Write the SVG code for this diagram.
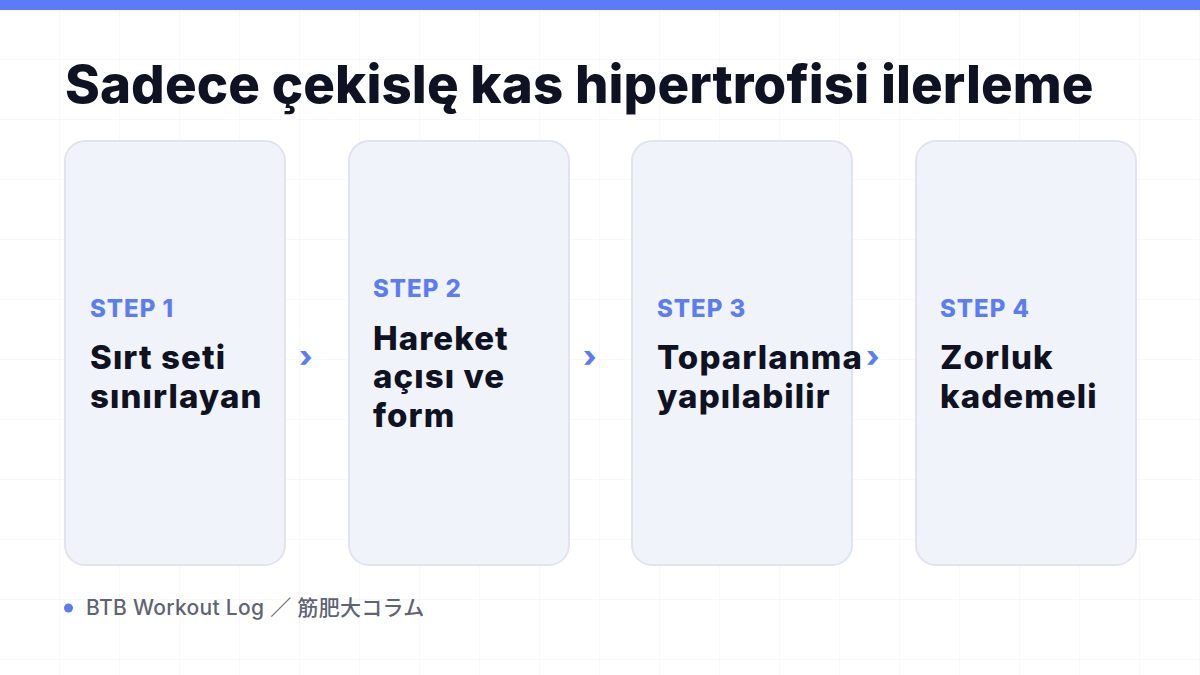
<svg xmlns="http://www.w3.org/2000/svg" width="1200" height="675" viewBox="0 0 1200 675">
  <defs>
    <pattern id="grid" x="0" y="0" width="60" height="60" patternUnits="userSpaceOnUse">
      <path d="M60 0 V60 M0 60 H60" fill="none" stroke="#f1f2f5" stroke-width="1"/>
    </pattern>
    <style>
      .card { fill: #f1f3fb; stroke: #e1e4ee; stroke-width: 2; }
      .step { font-family: Inter, "Liberation Sans", sans-serif; font-weight: 800; font-size: 24px; letter-spacing: 1px; fill: #5b7cf5; }
      .body { font-family: Inter, "Liberation Sans", sans-serif; font-weight: 800; font-size: 33px; letter-spacing: 1.1px; fill: #0f1222; }
      .arrow { font-family: Inter, "Liberation Sans", sans-serif; font-weight: 800; font-size: 30px; fill: #5b7cf5; }
      .title { font-family: Inter, "Liberation Sans", sans-serif; font-weight: 800; font-size: 52.8px; letter-spacing: 0.1px; fill: #0f1222; }
      .foot { font-family: Inter, "Liberation Sans", "Noto Sans CJK JP", sans-serif; font-weight: 500; font-size: 21px; letter-spacing: 0.3px; fill: #5f6473; }
    </style>
  </defs>
  <rect width="1200" height="675" fill="#ffffff"/>
  <rect width="1200" height="675" fill="url(#grid)"/>
  <rect x="0" y="0" width="1200" height="10" fill="#5b7cf6"/>

  <text id="title" class="title" x="65" y="103">Sadece çekislę kas hipertrofisi ilerleme</text>

  <g id="step1">
    <rect class="card" x="65" y="141" width="220" height="424" rx="20"/>
    <text class="step" x="90" y="317">STEP 1</text>
    <text class="body" x="90" y="369">Sırt seti</text>
    <text class="body" x="90" y="408">sınırlayan</text>
  </g>
  <g id="step2">
    <rect class="card" x="349" y="141" width="220" height="424" rx="20"/>
    <text class="step" x="373" y="297">STEP 2</text>
    <text class="body" x="373" y="350">Hareket</text>
    <text class="body" x="373" y="388">açısı ve</text>
    <text class="body" x="373" y="427">form</text>
  </g>
  <g id="step3">
    <rect class="card" x="632" y="141" width="220" height="424" rx="20"/>
    <text class="step" x="657" y="317">STEP 3</text>
    <text class="body" x="657" y="369">Toparlanma</text>
    <text class="body" x="657" y="408">yapılabilir</text>
  </g>
  <g id="step4">
    <rect class="card" x="916" y="141" width="220" height="424" rx="20"/>
    <text class="step" x="940" y="317">STEP 4</text>
    <text class="body" x="940" y="369">Zorluk</text>
    <text class="body" x="940" y="408">kademeli</text>
  </g>

  <g id="connectors">
    <text class="arrow" x="299" y="367">›</text>
    <text class="arrow" x="583" y="367">›</text>
    <text class="arrow" x="866" y="367">›</text>
  </g>

  <g id="footer">
    <circle cx="68.5" cy="608" r="4.5" fill="#5b7cf5"/>
    <text class="foot" x="86" y="615">BTB Workout Log ／ 筋肥大コラム</text>
  </g>
</svg>
